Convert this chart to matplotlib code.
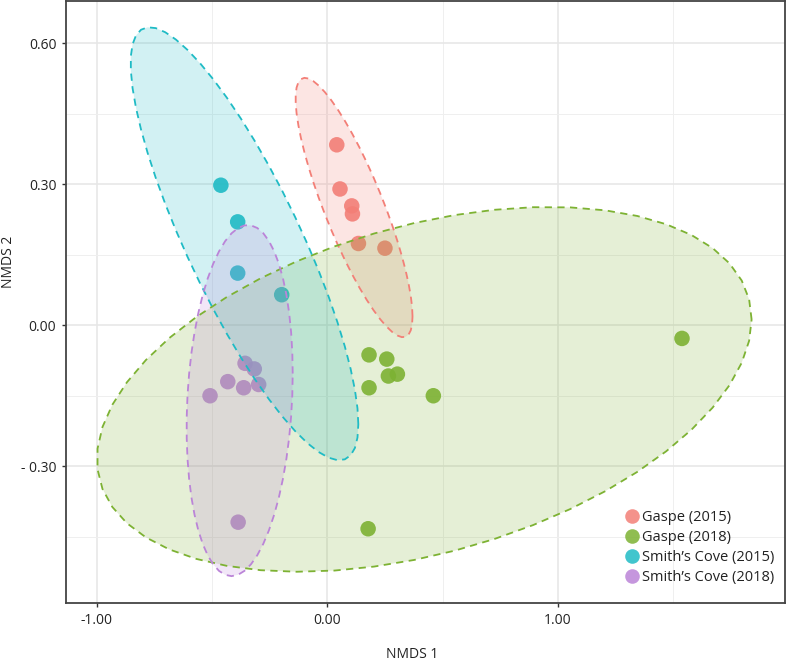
import numpy as np
import matplotlib
matplotlib.use("Agg")
import matplotlib.pyplot as plt
from matplotlib.patches import Polygon
from matplotlib.lines import Line2D

# ---------------- data ----------------
groups = ["Gaspe (2015)", "Gaspe (2018)", "Smith\u2019s Cove (2015)", "Smith\u2019s Cove (2018)"]
colors = ["#F37F77", "#7DB233", "#1FBBC5", "#BB84D8"]

gaspe15_x = [0.041, 0.055, 0.106, 0.109, 0.135, 0.250]
gaspe15_y = [0.384, 0.290, 0.254, 0.237, 0.174, 0.164]
gaspe18_x = [0.181, 0.258, 0.265, 0.304, 0.181, 0.177, 0.460, 1.539]
gaspe18_y = [-0.063, -0.072, -0.108, -0.104, -0.133, -0.433, -0.150, -0.028]
smith15_x = [-0.462, -0.389, -0.389, -0.198]
smith15_y = [0.298, 0.220, 0.111, 0.065]
smith18_x = [-0.357, -0.317, -0.432, -0.363, -0.298, -0.509, -0.387]
smith18_y = [-0.081, -0.093, -0.120, -0.133, -0.126, -0.150, -0.419]

xticks = [-1.0, 0.0, 1.0]
xticklabels = ["-1.00", "0.00", "1.00"]
yticks = [-0.3, 0.0, 0.3, 0.6]
yticklabels = ["- 0.30", "0.00", "0.30", "0.60"]

series = [(gaspe15_x, gaspe15_y), (gaspe18_x, gaspe18_y),
          (smith15_x, smith15_y), (smith18_x, smith18_y)]


# ---------------- stat_ellipse (type = "norm", level = 0.95) ----------------
def ellipse_path(x, y, level=0.95, segments=51):
    X = np.column_stack([x, y])
    n = X.shape[0]
    center = X.mean(axis=0)
    shape = np.cov(X, rowvar=False)
    dfn, dfd = 2, n - 1
    qf = dfd / 2.0 * ((1 - level) ** (-2.0 / dfd) - 1)
    radius = np.sqrt(dfn * qf)
    R = np.linalg.cholesky(shape).T
    ang = np.arange(segments + 1) * 2 * np.pi / segments
    circ = np.column_stack([np.cos(ang), np.sin(ang)])
    return center + radius * (circ @ R)


# ---------------- figure ----------------
plt.rcParams["font.family"] = ["Open Sans", "DejaVu Sans"]
fig = plt.figure(figsize=(7.87, 6.64), dpi=100)
ax = fig.add_axes([66 / 787, 61 / 664, 719 / 787, 602 / 664])

ax.set_xlim(-1.134, 1.986)
ax.set_ylim(-0.591, 0.690)

# grid (major + minor)
for v in xticks:
    ax.axvline(v, color="#e6e6e6", lw=1.1, zorder=0)
for v in [-0.5, 0.5, 1.5]:
    ax.axvline(v, color="#efefef", lw=0.7, zorder=0)
for v in yticks:
    ax.axhline(v, color="#e6e6e6", lw=1.1, zorder=0)
for v in [-0.45, -0.15, 0.15, 0.45]:
    ax.axhline(v, color="#efefef", lw=0.7, zorder=0)

# points
for (x, y), c in zip(series, colors):
    ax.scatter(x, y, s=125, color=c, alpha=0.9, edgecolors="none", zorder=2)

# ellipses drawn over points
for (x, y), c in zip(series, colors):
    pts = ellipse_path(np.array(x), np.array(y))
    ax.add_patch(Polygon(pts, closed=True, facecolor=c, alpha=0.2, edgecolor="none", zorder=3))
    ax.add_patch(Polygon(pts, closed=True, facecolor="none", edgecolor=c,
                         lw=1.3, linestyle=(0, (4, 3)), zorder=4))

ax.set_xticks(xticks)
ax.set_xticklabels(xticklabels)
ax.set_yticks(yticks)
ax.set_yticklabels(yticklabels)
ax.tick_params(axis="both", direction="out", length=3, width=1, color="#333333",
               labelsize=10, labelcolor="#222222", pad=4)

for s in ax.spines.values():
    s.set_color("#444444")
    s.set_linewidth(1.3)

fig.text(412 / 787, 1 - 655 / 664, "NMDS 1", ha="center", va="center", fontsize=10, color="#222222")
fig.text(9 / 787, 1 - 262 / 664, "NMDS 2", ha="center", va="center", rotation=90, fontsize=10,
         color="#222222")

handles = [Line2D([], [], marker="o", linestyle="none", markersize=10.5, markerfacecolor=c,
                  markeredgecolor="none", alpha=0.85) for c in colors]
leg = ax.legend(handles, groups, loc="lower right", bbox_to_anchor=(0.998, 0.015), frameon=False,
                fontsize=10.5, handletextpad=0.1, labelspacing=0.35, borderaxespad=0.2,
                handlelength=1.2)
for t in leg.get_texts():
    t.set_color("#222222")

fig.savefig("out.png", dpi=100)
